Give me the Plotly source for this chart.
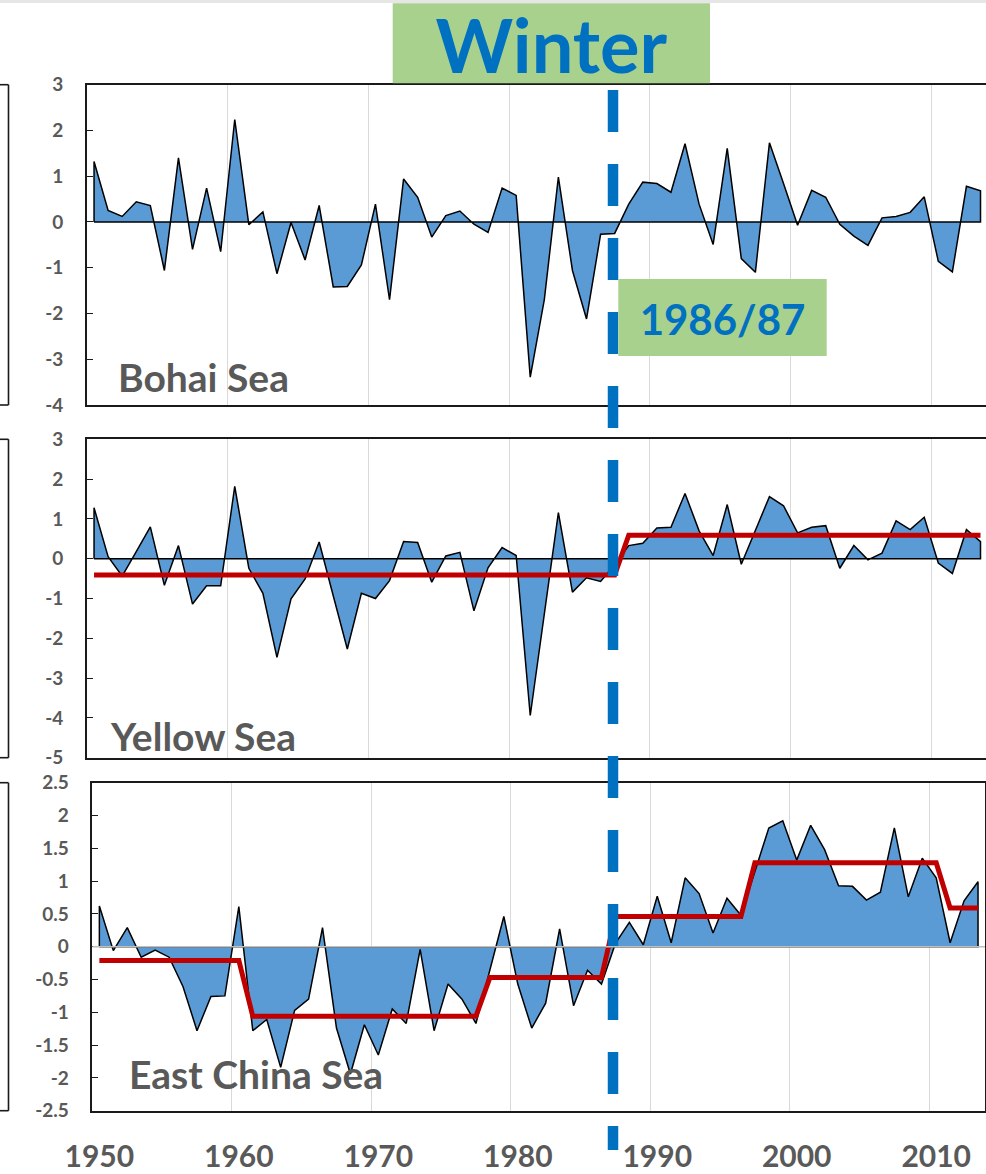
import plotly.graph_objects as go

W, H = 986, 1174

years = list(range(1950, 2014))

# Winter SST anomalies (°C)
bohai = [1.32, 0.25, 0.12, 0.44, 0.36, -1.06, 1.40, -0.60, 0.74, -0.65,
         2.24, -0.06, 0.22, -1.13, -0.01, -0.83, 0.36, -1.42, -1.41, -0.94,
         0.39, -1.70, 0.94, 0.54, -0.33, 0.14, 0.24, -0.05, -0.23, 0.74,
         0.58, -3.39, -1.70, 0.98, -1.06, -2.12, -0.27, -0.25, 0.39, 0.87,
         0.84, 0.65, 1.71, 0.39, -0.49, 1.61, -0.80, -1.10, 1.73, 0.84,
         -0.07, 0.69, 0.54, -0.05, -0.31, -0.51, 0.09, 0.12, 0.21, 0.55,
         -0.86, -1.09, 0.78, 0.68]

yellow = [1.28, 0.05, -0.44, 0.18, 0.80, -0.67, 0.33, -1.14, -0.68, -0.68,
          1.82, -0.24, -0.87, -2.48, -1.01, -0.51, 0.42, -0.93, -2.27, -0.87,
          -1.00, -0.55, 0.43, 0.41, -0.59, 0.07, 0.16, -1.31, -0.23, 0.28,
          0.08, -3.94, -1.38, 1.16, -0.84, -0.48, -0.57, -0.15, 0.33, 0.39,
          0.77, 0.79, 1.64, 0.70, 0.08, 1.36, -0.14, 0.70, 1.56, 1.33,
          0.65, 0.79, 0.83, -0.24, 0.33, -0.03, 0.14, 0.95, 0.73, 1.04,
          -0.11, -0.37, 0.73, 0.43]

east_china = [0.62, -0.06, 0.29, -0.16, -0.05, -0.16, -0.61, -1.28, -0.76, -0.75,
              0.61, -1.28, -1.11, -1.84, -0.97, -0.80, 0.29, -1.24, -1.94, -1.19,
              -1.65, -0.95, -1.17, -0.04, -1.28, -0.57, -0.80, -1.17, -0.35, 0.46,
              -0.57, -1.24, -0.86, 0.27, -0.90, -0.36, -0.57, 0.05, 0.37, 0.03,
              0.77, 0.06, 1.05, 0.81, 0.21, 0.74, 0.48, 1.15, 1.81, 1.92,
              1.32, 1.85, 1.48, 0.93, 0.92, 0.71, 0.83, 1.81, 0.76, 1.35,
              1.05, 0.06, 0.70, 0.99]

# Regime means: (first year, last year, mean)
yellow_regimes = [(1950, 1987, -0.41), (1988, 2013, 0.59)]
east_china_regimes = [(1950, 1960, -0.21), (1961, 1977, -1.06), (1978, 1986, -0.47),
                      (1987, 1996, 0.46), (1997, 2010, 1.28), (2011, 2013, 0.59)]

bohai_ticks = [3, 2, 1, 0, -1, -2, -3, -4]
yellow_ticks = [3, 2, 1, 0, -1, -2, -3, -4, -5]
ecs_ticks = [2.5, 2, 1.5, 1, 0.5, 0, -0.5, -1, -1.5, -2, -2.5]
year_ticks = [1950, 1960, 1970, 1980, 1990, 2000, 2010]
grid_years = [1959.5, 1969.5, 1979.5, 1989.5, 1999.5, 2009.5]

FILL = "#5B9BD5"
RED = "#C00000"
BLUE = "#0070C0"
GREEN = "#A9D18E"
GREY_TXT = "#595959"
FRAME = "#1A1A1A"
FONT = "Lato"


def px(x):
    return x / W


def py(y):
    return 1 - y / H


panels = [
    dict(name="Bohai Sea", vals=bohai, regimes=None, yrange=[-4, 3], ticks=bohai_ticks,
         top=84.7, bottom=405.0, left=87.0, right=986.0, xrange=[1949.5, 2013.39],
         ymirror=False, zero_col="black", label_xy=(116, 377)),
    dict(name="Yellow Sea", vals=yellow, regimes=yellow_regimes, yrange=[-5, 3], ticks=yellow_ticks,
         top=439.3, bottom=757.7, left=87.0, right=986.0, xrange=[1949.5, 2013.39],
         ymirror=False, zero_col="black", label_xy=(108, 736)),
    dict(name="East China Sea", vals=east_china, regimes=east_china_regimes, yrange=[-2.5, 2.5],
         ticks=ecs_ticks, top=782.7, bottom=1110.7, left=92.4, right=985.0,
         xrange=[1949.5, 2013.5], ymirror=True, zero_col="#BFBFBF", label_xy=(127, 1074)),
]

fig = go.Figure()
shapes = []
annotations = []

for i, p in enumerate(panels, start=1):
    sfx = "" if i == 1 else str(i)
    xa, ya = "x" + sfx, "y" + sfx

    # anomaly area, outlined along the data and the zero baseline
    xs = [years[0]] + years + [years[-1], years[0]]
    ys = [0] + p["vals"] + [0, 0]
    fig.add_trace(go.Scatter(x=xs, y=ys, mode="lines", fill="toself", fillcolor=FILL,
                             line=dict(color="black", width=1.5), xaxis=xa, yaxis=ya,
                             hoverinfo="skip", showlegend=False))

    if p["zero_col"] != "black":
        shapes.append(dict(type="line", xref=xa + " domain", yref=ya, x0=0, x1=1, y0=0, y1=0,
                           line=dict(color=p["zero_col"], width=1.6), layer="above"))

    # regime-shift step line
    if p["regimes"]:
        rx, ry = [], []
        for s, e, m in p["regimes"]:
            rx += [s, e]
            ry += [m, m]
        fig.add_trace(go.Scatter(x=rx, y=ry, mode="lines", line=dict(color=RED, width=5),
                                 xaxis=xa, yaxis=ya, hoverinfo="skip", showlegend=False))

    last = i == len(panels)
    fig.layout["xaxis" + sfx] = dict(
        domain=[px(p["left"]), px(p["right"])], range=p["xrange"], anchor=ya,
        showline=True, linecolor=FRAME, linewidth=1.6, mirror=True,
        showgrid=False, zeroline=False, ticks="", automargin=False,
        tickmode="array", tickvals=year_ticks, ticktext=[str(v) for v in year_ticks],
        showticklabels=last, ticklabelstandoff=18,
        tickfont=dict(family=FONT, size=30, color=GREY_TXT, weight="bold"),
        minor=dict(tickmode="array", tickvals=grid_years, showgrid=True,
                   gridcolor="#D9D9D9", gridwidth=1.3, ticks=""),
        fixedrange=True,
    )
    fig.layout["yaxis" + sfx] = dict(
        domain=[py(p["bottom"]), py(p["top"])], range=p["yrange"], anchor=xa,
        showline=True, linecolor=FRAME, linewidth=1.6, mirror=p["ymirror"],
        showgrid=False, zeroline=False, ticks="inside", ticklen=6, tickwidth=1.2,
        tickcolor=FRAME, tickmode="array", tickvals=p["ticks"], automargin=False,
        ticktext=["%g" % v for v in p["ticks"]], ticklabelstandoff=18,
        tickfont=dict(family=FONT, size=19, color=GREY_TXT, weight="bold"),
        fixedrange=True,
    )

    lx, ly = p["label_xy"]
    annotations.append(dict(text="<b>%s</b>" % p["name"], xref="paper", yref="paper",
                            x=px(lx), y=py(ly), xanchor="left", yanchor="middle",
                            showarrow=False,
                            font=dict(family=FONT, size=39, color=GREY_TXT)))

    # edge of the neighbouring panel frame at the far left
    for y_edge in (p["top"], p["bottom"]):
        shapes.append(dict(type="line", xref="paper", yref="paper", x0=0, x1=px(8.5),
                           y0=py(y_edge), y1=py(y_edge),
                           line=dict(color=FRAME, width=1.6), layer="above"))
    shapes.append(dict(type="line", xref="paper", yref="paper", x0=px(8.5), x1=px(8.5),
                       y0=py(p["bottom"]), y1=py(p["top"]),
                       line=dict(color=FRAME, width=1.6), layer="above"))

# thin grey band along the very top
shapes.append(dict(type="rect", xref="paper", yref="paper", x0=0, x1=1, y0=py(3), y1=1,
                   fillcolor="#E6E6E6", line=dict(width=0), layer="below"))

# season title box
shapes.append(dict(type="rect", xref="paper", yref="paper", x0=px(392.7), x1=px(710),
                   y0=py(83.3), y1=py(3.3), fillcolor=GREEN, line=dict(width=0), layer="above",
                   label=dict(text="<b>Winter</b>", textposition="middle center",
                              font=dict(family=FONT, size=74, color=BLUE))))

# shift year marker and its label box
shapes.append(dict(type="line", xref="paper", yref="paper", x0=px(613), x1=px(613),
                   y0=py(90), y1=py(1150),
                   line=dict(color=BLUE, width=10.5, dash="42px,32px"), layer="above"))
shapes.append(dict(type="rect", xref="paper", yref="paper", x0=px(618.3), x1=px(826.7),
                   y0=py(356), y1=py(279), fillcolor=GREEN, line=dict(width=0), layer="above",
                   label=dict(text="<b>1986/87</b>", textposition="middle center",
                              font=dict(family=FONT, size=42, color=BLUE))))

fig.update_layout(
    width=W, height=H, autosize=False,
    margin=dict(l=0, r=0, t=0, b=0, autoexpand=False),
    paper_bgcolor="white", plot_bgcolor="white",
    shapes=shapes, annotations=annotations,
    showlegend=False,
)

fig.write_html("out.html", config={"displayModeBar": False})
